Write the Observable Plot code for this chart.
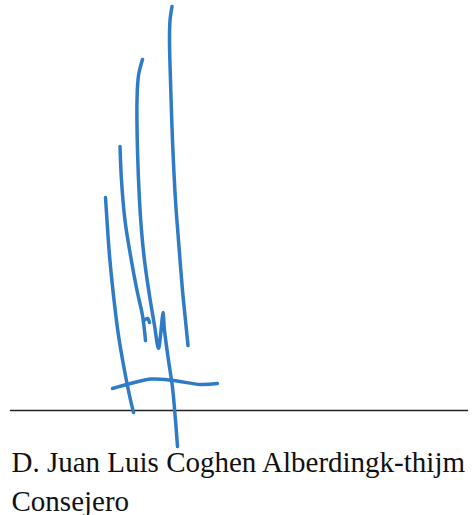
<!DOCTYPE html>
<html>
<head>
<meta charset="utf-8">
<script src="https://cdn.jsdelivr.net/npm/d3@7"></script>
<script src="https://cdn.jsdelivr.net/npm/@observablehq/plot@0.6"></script>
<style>
html,body{margin:0;padding:0;background:#fff;}
</style>
</head>
<body>
<div id="chart"></div>
<script>
// Signature strokes (x, y in pixel-like units of the signed area)
const strokeA = [[171.5,6],[169.5,20],[169,40],[170,80],[172,140],[175,200],[178,240],[182,290],[185,320],[187.5,345]];
const strokeB = [[142,59],[138,75],[136.5,100],[137,150],[139,200],[141,230],[144,260],[149,295],[154,325],[158,348],[160,335],[161.5,320],[162.5,312],[164,330],[168,360],[172,387],[175,420],[177,446]];
const strokeC = [[119.5,146],[121,180],[124.5,220],[130,255],[136.5,290],[142,315],[145,340]];
const strokeC2 = [[143.5,320],[147,318],[149,322]];
const strokeD = [[105,197],[106.5,220],[109,255],[113,295],[118,335],[124,370],[129,395],[133,412]];
const strokeCross = [[112,388],[130,383],[151,378.5],[173,380],[200,384],[217,383]];
const strokes = [strokeA, strokeB, strokeC, strokeC2, strokeD, strokeCross];

const signLine = [[10,410],[467,410]];
const nameText = "D. Juan Luis Coghen Alberdingk-thijm";
const roleText = "Consejero";
const labels = [
  {x: 11, y: 471, text: nameText},
  {x: 11, y: 510, text: roleText}
];

const strokeRows = strokes.flatMap((s, i) => s.map(([x, y]) => ({x, y, id: i})));
const lineRows = signLine.map(([x, y]) => ({x, y}));

const chart = Plot.plot({
  width: 475,
  height: 515,
  margin: 0,
  x: {domain: [0, 475], range: [0, 475], axis: null},
  y: {domain: [0, 515], range: [0, 515], axis: null},
  style: {background: "#fff"},
  marks: [
    Plot.line(lineRows, {x: "x", y: "y", stroke: "#222", strokeWidth: 1.5}),
    Plot.line(strokeRows, {x: "x", y: "y", z: "id", stroke: "#2f7bc8", strokeWidth: 3.5, curve: "catmull-rom", strokeLinecap: "round", strokeLinejoin: "round"}),
    Plot.text(labels, {x: "x", y: "y", text: "text", textAnchor: "start", lineAnchor: "bottom", fontFamily: "Liberation Serif", fontSize: 29, fill: "#111"})
  ]
});
document.getElementById("chart").appendChild(chart);
</script>
</body>
</html>
